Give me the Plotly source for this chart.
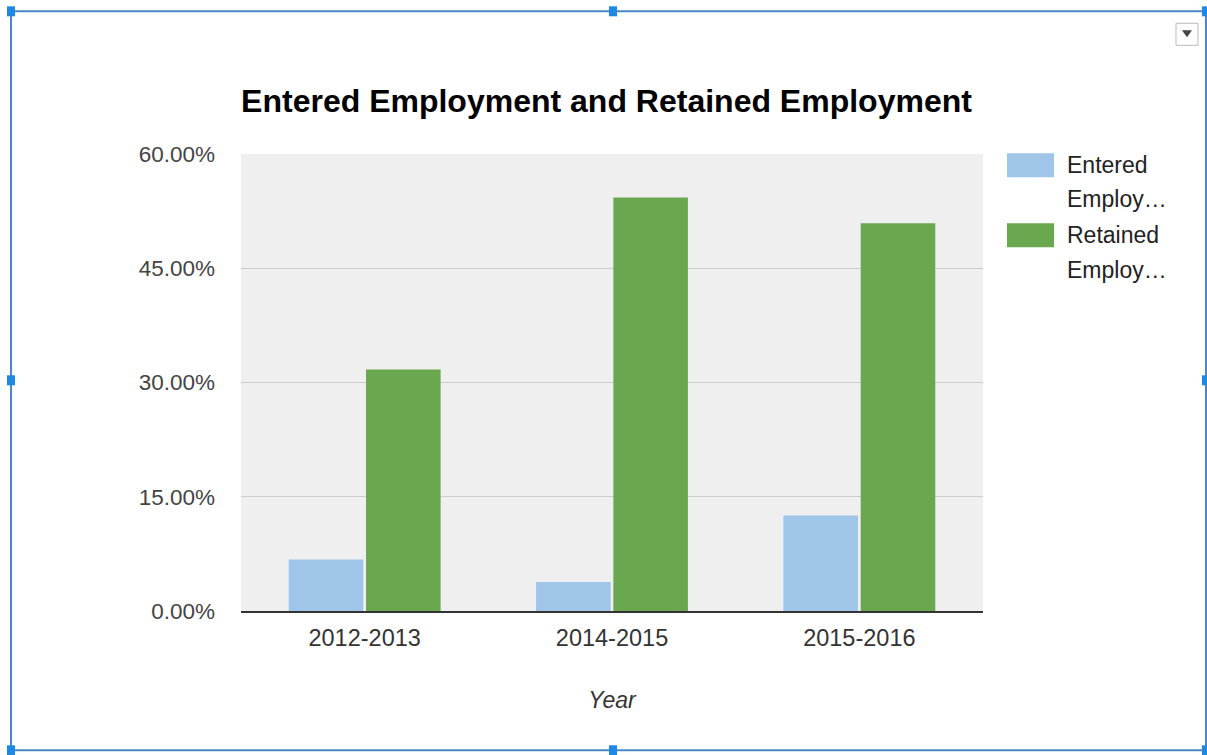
import plotly.graph_objects as go

# Data
years = ["2012-2013", "2014-2015", "2015-2016"]
entered = [0.0675, 0.0381, 0.1253]
retained = [0.317, 0.543, 0.509]
y_ticks = [0, 0.15, 0.30, 0.45, 0.60]
legend_lines = [["Entered", "Employ…"], ["Retained", "Employ…"]]

BLUE = "#9fc5e8"
GREEN = "#6aa84f"
W, H = 1207, 755
L, R, T, B = 241, 983, 153.7, 610.7


def px(x):
    return (x - L) / (R - L)


def py(y):
    return (B - y) / (B - T)


fig = go.Figure()
fig.add_trace(go.Bar(x=years, y=entered, name="Entered Employment",
                     marker=dict(color=BLUE, line=dict(width=0))))
fig.add_trace(go.Bar(x=years, y=retained, name="Retained Employment",
                     marker=dict(color=GREEN, line=dict(width=0))))

font_family = "Liberation Sans, Arial, sans-serif"

fig.update_layout(
    width=W, height=H,
    margin=dict(l=L, r=W - R, t=T, b=H - B, pad=0),
    paper_bgcolor="white",
    plot_bgcolor="#efefef",
    barmode="group",
    bargap=0.375,
    bargroupgap=0.035,
    showlegend=False,
    font=dict(family=font_family, size=22, color="#444"),
    title=dict(text="<b>Entered Employment and Retained Employment</b>",
               x=606.5 / W, xanchor="center", y=1 - 101 / H, yanchor="middle",
               font=dict(family=font_family, size=32, color="#000")),
)

fig.update_xaxes(
    showline=True, linecolor="#333", linewidth=2,
    showgrid=False, ticks="", ticklabelstandoff=5,
    tickfont=dict(size=23.5, color="#333"),
    title=dict(text="<i>Year</i>", standoff=42,
               font=dict(size=23, color="#333")),
)
fig.update_yaxes(
    range=[0, 0.6], tickvals=y_ticks, tickformat=".2%",
    showgrid=True, gridcolor="#cccccc", gridwidth=1,
    zeroline=False, showline=False, ticks="",
    ticklabelstandoff=25,
    tickfont=dict(size=22.5, color="#444"),
)

# Legend drawn as swatches and labels to the right of the plot
shapes = []
annotations = []
swatch_rows = [(153, 177, BLUE, 165, 199), (223, 247, GREEN, 235, 270)]
for (y0, y1, col, t1, t2), lines in zip(swatch_rows, legend_lines):
    shapes.append(dict(type="rect", xref="paper", yref="paper",
                       x0=px(1007), x1=px(1054), y0=py(y1), y1=py(y0),
                       fillcolor=col, line=dict(width=0)))
    for ty, txt in zip((t1, t2), lines):
        annotations.append(dict(text=txt, xref="paper", yref="paper",
                                x=px(1065), y=py(ty), xanchor="left",
                                yanchor="middle", showarrow=False,
                                font=dict(size=23, color="#222")))

# Selection frame around the chart with handles
FRAME = "#4a86c8"
HANDLE = "#1e88e5"
fx0, fx1, fy0, fy1 = 11, 1206, 11, 750
for a, b, c, d in [(fx0, fy0, fx1, fy0), (fx0, fy1, fx1, fy1),
                   (fx0, fy0, fx0, fy1), (fx1, fy0, fx1, fy1)]:
    shapes.append(dict(type="line", xref="paper", yref="paper",
                       x0=px(a), y0=py(b), x1=px(c), y1=py(d),
                       line=dict(color=FRAME, width=2)))
for hx, hy in [(fx0, fy0), (613, fy0), (fx1, fy0), (fx0, 380), (fx1, 380),
               (fx0, fy1), (613, fy1), (fx1, fy1)]:
    shapes.append(dict(type="rect", xref="paper", yref="paper",
                       x0=px(hx - 4), x1=px(hx + 4), y0=py(hy + 5), y1=py(hy - 5),
                       fillcolor=HANDLE, line=dict(width=0)))

# Menu button in the top-right corner
shapes.append(dict(type="rect", xref="paper", yref="paper",
                   x0=px(1176), x1=px(1198), y0=py(45), y1=py(23),
                   fillcolor="white", line=dict(color="#bbbbbb", width=1)))
shapes.append(dict(type="path", xref="paper", yref="paper",
                   path=f"M {px(1182)} {py(30)} L {px(1192)} {py(30)} L {px(1187)} {py(37)} Z",
                   fillcolor="#444", line=dict(width=0)))

fig.update_layout(shapes=shapes, annotations=annotations)

fig.write_html("out.html")
